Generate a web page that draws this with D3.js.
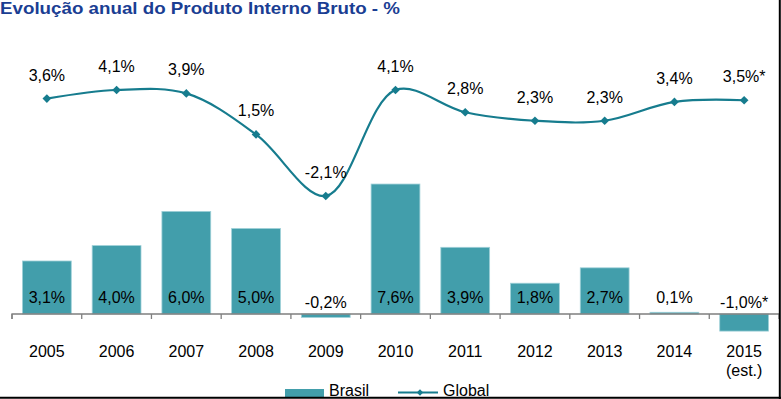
<!DOCTYPE html>
<html>
<head>
<meta charset="utf-8">
<script src="https://cdn.jsdelivr.net/npm/d3@7"></script>
<style>
  body { margin: 0; background: #fff; }
  text { font-family: "Liberation Sans", Arial, sans-serif; }
</style>
</head>
<body>
<svg id="chart" width="781" height="399"></svg>
<script>
var years = ["2005", "2006", "2007", "2008", "2009", "2010", "2011", "2012", "2013", "2014", "2015"];
var yearSub = ["", "", "", "", "", "", "", "", "", "", "(est.)"];
var brasil = [3.1, 4.0, 6.0, 5.0, -0.2, 7.6, 3.9, 1.8, 2.7, 0.1, -1.0];
var brasilLabels = ["3,1%", "4,0%", "6,0%", "5,0%", "-0,2%", "7,6%", "3,9%", "1,8%", "2,7%", "0,1%", "-1,0%*"];
var global = [3.6, 4.1, 3.9, 1.5, -2.1, 4.1, 2.8, 2.3, 2.3, 3.4, 3.5];
var globalLabels = ["3,6%", "4,1%", "3,9%", "1,5%", "-2,1%", "4,1%", "2,8%", "2,3%", "2,3%", "3,4%", "3,5%*"];

var barColor = "#429eab",
    lineColor = "#167c8e";

var svg = d3.select("#chart");

var x = d3.scaleBand()
    .domain(years)
    .range([12, 779])
    .paddingInner(0.3)
    .paddingOuter(0.15);

// primary axis (bars) and secondary axis (line) share the same unit height
var y1 = d3.scaleLinear().domain([-2, 16]).range([348.2, 40.4]);
var y2 = d3.scaleLinear().domain([-11, 7]).range([348.2, 40.4]);

// title
svg.append("text")
    .attr("x", 0)
    .attr("y", 13.5)
    .attr("fill", "#1a3e93")
    .attr("textLength", 400)
    .attr("lengthAdjust", "spacingAndGlyphs")
    .style("font-size", "17px")
    .style("font-weight", "bold")
    .text("Evolução anual do Produto Interno Bruto - %");

// bars
svg.selectAll("rect.bar")
    .data(brasil)
    .enter()
    .append("rect")
        .attr("class", "bar")
        .attr("x", function (d, i) { return x(years[i]); })
        .attr("y", function (d) { return y1(Math.max(0, d)); })
        .attr("width", x.bandwidth())
        .attr("height", function (d) { return Math.abs(y1(d) - y1(0)); })
        .attr("fill", barColor)
        .attr("stroke", "#9fd0d8")
        .attr("stroke-width", 0.8);

// x axis
var axis = d3.axisBottom(x).tickSize(5).tickFormat("");
var gx = svg.append("g")
    .attr("transform", "translate(0," + y1(0) + ")")
    .call(axis);
gx.select(".domain").attr("stroke", "#7f7f7f").attr("stroke-width", 1.3)
    .attr("d", "M12,5V0H779");
gx.selectAll(".tick").remove();
var tickPos = d3.range(years.length + 1).map(function (i) { return 12 + i * x.step(); });
gx.selectAll("line.tk")
    .data(tickPos)
    .enter()
    .append("line")
        .attr("class", "tk")
        .attr("x1", function (d) { return d; })
        .attr("x2", function (d) { return d; })
        .attr("y1", 0)
        .attr("y2", 5)
        .attr("stroke", "#7f7f7f")
        .attr("stroke-width", 1.3);

// category labels
svg.selectAll("text.year")
    .data(years)
    .enter()
    .append("text")
        .attr("class", "year")
        .attr("x", function (d) { return x(d) + x.bandwidth() / 2; })
        .attr("y", 357)
        .attr("text-anchor", "middle")
        .style("font-size", "16px")
        .attr("fill", "#000")
        .text(function (d) { return d; });

svg.selectAll("text.yearsub")
    .data(yearSub)
    .enter()
    .append("text")
        .attr("class", "yearsub")
        .attr("x", function (d, i) { return x(years[i]) + x.bandwidth() / 2; })
        .attr("y", 375.5)
        .attr("text-anchor", "middle")
        .style("font-size", "16px")
        .attr("fill", "#000")
        .text(function (d) { return d; });

// bar labels
svg.selectAll("text.blabel")
    .data(brasilLabels)
    .enter()
    .append("text")
        .attr("class", "blabel")
        .attr("x", function (d, i) { return x(years[i]) + x.bandwidth() / 2; })
        .attr("y", function (d, i) { return brasil[i] < 0 ? 307.5 : 302.5; })
        .attr("text-anchor", "middle")
        .style("font-size", "16px")
        .attr("fill", "#000")
        .text(function (d) { return d; });

// global line
var line = d3.line()
    .x(function (d, i) { return x(years[i]) + x.bandwidth() / 2; })
    .y(function (d) { return y2(d); })
    .curve(d3.curveCatmullRom.alpha(0.5));

svg.append("path")
    .datum(global)
    .attr("d", line)
    .attr("fill", "none")
    .attr("stroke", lineColor)
    .attr("stroke-width", 2.2);

var diamond = d3.symbol().type(d3.symbolDiamond2).size(48);
svg.selectAll("path.marker")
    .data(global)
    .enter()
    .append("path")
        .attr("class", "marker")
        .attr("d", diamond)
        .attr("transform", function (d, i) {
            return "translate(" + (x(years[i]) + x.bandwidth() / 2) + "," + y2(d) + ")";
        })
        .attr("fill", lineColor);

svg.selectAll("text.glabel")
    .data(globalLabels)
    .enter()
    .append("text")
        .attr("class", "glabel")
        .attr("x", function (d, i) { return x(years[i]) + x.bandwidth() / 2; })
        .attr("y", function (d, i) { return y2(global[i]) - 18; })
        .attr("text-anchor", "middle")
        .style("font-size", "16px")
        .attr("fill", "#000")
        .text(function (d) { return d; });

// legend
var legend = svg.append("g");
legend.append("rect")
    .attr("x", 285).attr("y", 389)
    .attr("width", 39).attr("height", 8)
    .attr("fill", barColor);
legend.append("text")
    .attr("x", 329).attr("y", 396)
    .style("font-size", "16px")
    .text("Brasil");
legend.append("line")
    .attr("x1", 398).attr("x2", 438)
    .attr("y1", 392.5).attr("y2", 392.5)
    .attr("stroke", lineColor)
    .attr("stroke-width", 2);
legend.append("path")
    .attr("d", d3.symbol().type(d3.symbolDiamond2).size(26))
    .attr("transform", "translate(420,392.5)")
    .attr("fill", lineColor);
legend.append("text")
    .attr("x", 443).attr("y", 396)
    .style("font-size", "16px")
    .text("Global");

// frame (right and bottom edges visible)
svg.append("line")
    .attr("x1", 0).attr("x2", 781)
    .attr("y1", 397.8).attr("y2", 397.8)
    .attr("stroke", "#000").attr("stroke-width", 2);
svg.append("line")
    .attr("x1", 779.8).attr("x2", 779.8)
    .attr("y1", 0).attr("y2", 399)
    .attr("stroke", "#000").attr("stroke-width", 2);
</script>
</body>
</html>
